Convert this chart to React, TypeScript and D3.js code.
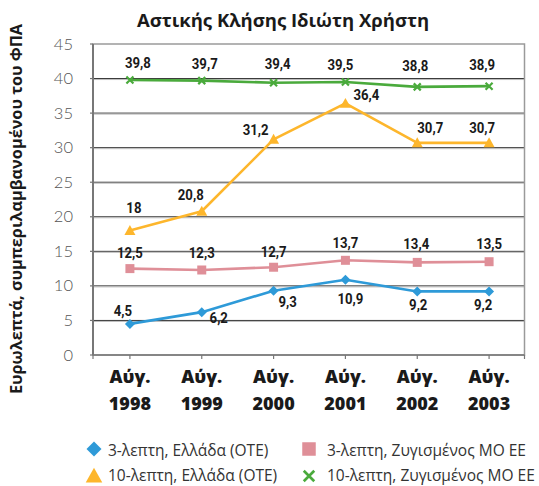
import React from "react";
import * as d3 from "d3";

const categories = ["1998", "1999", "2000", "2001", "2002", "2003"];
const monthLabel = "Αύγ.";
const yTicks = [0, 5, 10, 15, 20, 25, 30, 35, 40, 45];

const blue3GR = [4.5, 6.2, 9.3, 10.9, 9.2, 9.2];
const pink3EU = [12.5, 12.3, 12.7, 13.7, 13.4, 13.5];
const orange10GR = [18, 20.8, 31.2, 36.4, 30.7, 30.7];
const green10EU = [39.8, 39.7, 39.4, 39.5, 38.8, 38.9];

const seriesNames = [
  "3-λεπτη, Ελλάδα (ΟΤΕ)",
  "3-λεπτη, Ζυγισμένος ΜΟ ΕΕ",
  "10-λεπτη, Ελλάδα (ΟΤΕ)",
  "10-λεπτη, Ζυγισμένος ΜΟ ΕΕ",
];

// label offsets (dx, dy) relative to each point
const blueOff = [[-7, -8], [17, 11], [14, 16], [5, 24], [1, 19], [-6, 19]];
const pinkOff = [[0, -11], [0, -12], [0, -10], [0, -12], [-1, -13], [0, -13]];
const orangeOff = [[4, -18], [-11, -11], [-18, -4], [21, -3], [13, -10], [-7, -10]];
const greenOff = [[8, -12], [3, -12], [4, -14], [-5, -12], [-2, -16], [-7, -16]];

const W = 539, H = 486;
const left = 93, right = 524.5, top = 44, bottom = 355;

const colors = {
  blue: "#2e9ad8",
  pink: "#df8f98",
  orange: "#fdb62c",
  green: "#4aaa3c",
};

const fmt = (v: number) => String(v).replace(".", ",");

function Marker({ kind, x, y, color, s = 1 }: { kind: string; x: number; y: number; color: string; s?: number }) {
  if (kind === "diamond") {
    const r = 5 * s;
    return <path d={`M${x},${y - r}L${x + r},${y}L${x},${y + r}L${x - r},${y}Z`} fill={color} />;
  }
  if (kind === "square") {
    const r = 4.5 * s;
    return <rect x={x - r} y={y - r} width={2 * r} height={2 * r} fill={color} />;
  }
  if (kind === "triangle") {
    const r = 5.5 * s;
    return <path d={`M${x},${y - r}L${x + r},${y + r * 0.8}L${x - r},${y + r * 0.8}Z`} fill={color} />;
  }
  const r = 3.5 * s;
  return (
    <path d={`M${x - r},${y - r}L${x + r},${y + r}M${x + r},${y - r}L${x - r},${y + r}`} stroke={color} strokeWidth={2.2 * Math.sqrt(s)} />
  );
}

export default function App() {
  const x = d3.scalePoint<string>().domain(categories).range([left + 1, right + 0.5]).padding(0.5);
  const y = d3.scaleLinear().domain([0, 45]).range([bottom, top]);
  const line = d3.line<number>().x((_, i) => x(categories[i])!).y((d) => y(d));

  const series = [
    { vals: blue3GR, color: colors.blue, kind: "diamond", off: blueOff },
    { vals: pink3EU, color: colors.pink, kind: "square", off: pinkOff },
    { vals: orange10GR, color: colors.orange, kind: "triangle", off: orangeOff },
    { vals: green10EU, color: colors.green, kind: "x", off: greenOff },
  ];

  const labelFont = "Roboto, 'DejaVu Sans', sans-serif";
  const mainFont = "'Open Sans', 'Noto Sans', sans-serif";

  const legendPos = [
    { lx: 94, ly: 449, tx: 108, ty: 456 },
    { lx: 309, ly: 449, tx: 327, ty: 456 },
    { lx: 94, ly: 476, tx: 108, ty: 481 },
    { lx: 309, ly: 476, tx: 327, ty: 481 },
  ];

  return (
    <svg width={W} height={H} style={{ position: "absolute", left: 0, top: 0, background: "#fff" }}>
      <text x={283} y={27} textAnchor="middle" fontFamily={mainFont} fontWeight={700} fontSize={18.5} fill="#1a1a1a">
        Αστικής Κλήσης Ιδιώτη Χρήστη
      </text>

      <text
        transform={`translate(22, 209) rotate(-90)`}
        textAnchor="middle"
        fontFamily={mainFont}
        fontWeight={700}
        fontSize={16.3}
        fill="#1a1a1a"
      >
        Ευρωλεπτά, συμπεριλαμβανομένου του ΦΠΑ
      </text>

      {/* grid */}
      {yTicks.filter((t) => t > 0 && t < 45).map((t) => (
        <g key={t}>
          <line x1={left} x2={right} y1={y(t)} y2={y(t)} stroke="#333" strokeWidth={1} />
          <line x1={left} x2={right} y1={y(t) + 1} y2={y(t) + 1} stroke="#bbb" strokeWidth={1} />
        </g>
      ))}
      <rect x={left} y={top} width={right - left} height={bottom - top} fill="none" stroke="#9a9a9a" strokeWidth={1.5} />
      <line x1={left} x2={left} y1={top} y2={bottom} stroke="#777" strokeWidth={2} />
      <line x1={left} x2={right} y1={bottom} y2={bottom} stroke="#777" strokeWidth={1.5} />

      {/* y ticks */}
      {yTicks.map((t) => (
        <g key={t}>
          <line x1={left - 3} x2={left} y1={y(t)} y2={y(t)} stroke="#777" strokeWidth={1.2} />
          <text x={73} y={y(t) + 5.5} textAnchor="end" fontFamily="Lato, 'Open Sans', sans-serif" fontWeight={300} fontSize={16.5} fill="#555">
            {t}
          </text>
        </g>
      ))}

      {/* x ticks */}
      {categories.map((c) => (
        <g key={c}>
          <line x1={x(c)!} x2={x(c)!} y1={bottom} y2={bottom + 4} stroke="#777" strokeWidth={1.2} />
          <text x={x(c)!} y={383} textAnchor="middle" fontFamily={mainFont} fontWeight={800} fontSize={18} fill="#1a1a1a">
            {monthLabel}
          </text>
          <text x={x(c)!} y={410} textAnchor="middle" fontFamily={mainFont} fontWeight={800} fontSize={18} fill="#1a1a1a">
            {c}
          </text>
        </g>
      ))}
      <line x1={left} x2={left} y1={bottom} y2={bottom + 4} stroke="#777" strokeWidth={1.2} />
      <line x1={right} x2={right} y1={bottom} y2={bottom + 4} stroke="#777" strokeWidth={1.2} />

      {/* series */}
      {series.map((s, si) => (
        <g key={si}>
          <path d={line(s.vals)!} fill="none" stroke={s.color} strokeWidth={2.6} strokeLinejoin="round" />
          {s.vals.map((v, i) => (
            <Marker key={i} kind={s.kind} x={x(categories[i])!} y={y(v)} color={s.color} />
          ))}
          {s.vals.map((v, i) => (
            <text
              key={"l" + i}
              transform={`translate(${x(categories[i])! + s.off[i][0]}, ${y(v) + s.off[i][1]}) scale(0.85,1)`}
              textAnchor="middle"
              fontFamily={labelFont}
              fontWeight={700}
              fontSize={15.5}
              fill="#1a1a1a"
            >
              {fmt(v)}
            </text>
          ))}
        </g>
      ))}

      {/* legend */}
      {series.map((s, i) => (
        <g key={"lg" + i}>
          <Marker kind={s.kind} x={legendPos[i].lx} y={legendPos[i].ly} color={s.color} s={1.5} />
          <text x={legendPos[i].tx} y={legendPos[i].ty} fontFamily={mainFont} fontSize={15.5} fill="#333">
            {seriesNames[i]}
          </text>
        </g>
      ))}
    </svg>
  );
}
